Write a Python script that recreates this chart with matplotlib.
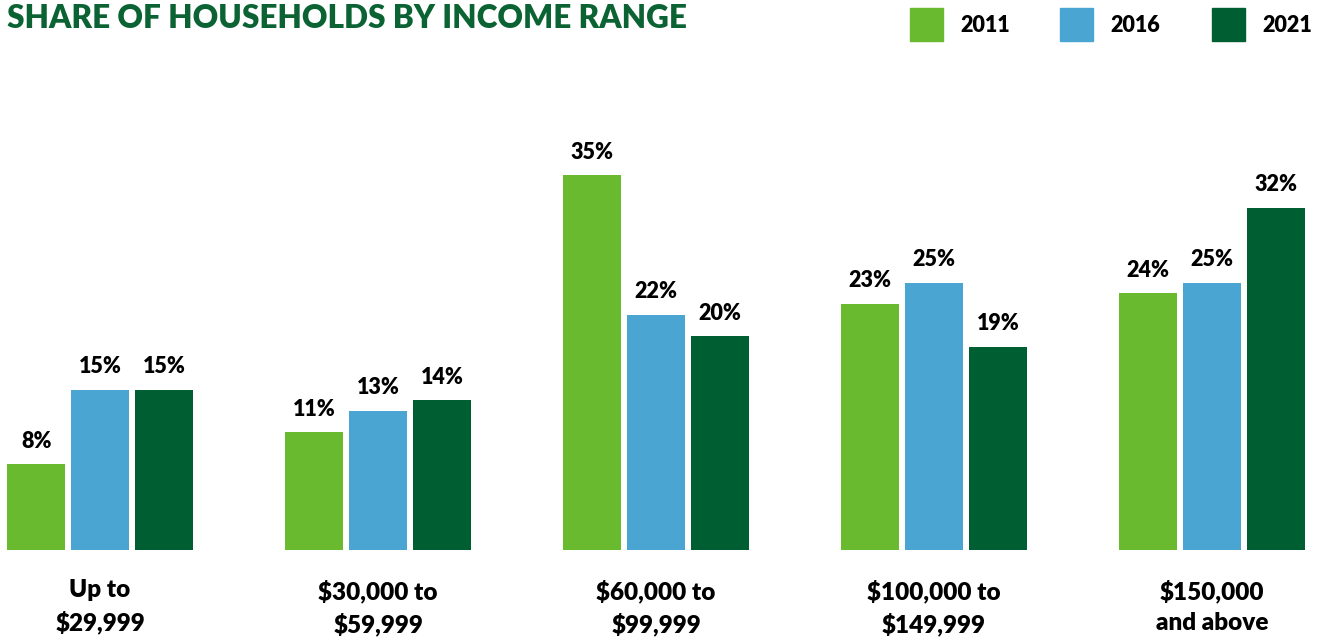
import numpy as np
import matplotlib
matplotlib.use('Agg')
import matplotlib.pyplot as plt
from matplotlib.patches import Rectangle

plt.rcParams['font.family'] = ['Lato', 'DejaVu Sans']

# data
categories = ['Up to\n$29,999', '$30,000 to\n$59,999', '$60,000 to\n$99,999',
              '$100,000 to\n$149,999', '$150,000\nand above']
years = ['2011', '2016', '2021']
share_2011 = [8, 11, 35, 23, 24]
share_2016 = [15, 13, 22, 25, 25]
share_2021 = [15, 14, 20, 19, 32]

colors = ['#6aba2f', '#4ba5d3', '#005e33']
title_color = '#0b6333'
WEIGHT = 'heavy'

W, H = 1323, 638
fig = plt.figure(figsize=(W / 100, H / 100), dpi=100)
fig.set_facecolor('white')

# axes placed in pixel terms: baseline at y=550, ~10.7 px per percent
ax = fig.add_axes([7 / W, 88 / H, 1298 / W, 428 / H])
ax.set_xlim(-0.335, 4.335)
ax.set_ylim(0, 40)
ax.axis('off')

x = np.arange(len(categories))
step = 0.23
width = 0.21
for i, (vals, c) in enumerate(zip([share_2011, share_2016, share_2021], colors)):
    pos = x + (i - 1) * step
    ax.bar(pos, vals, width=width, color=c, edgecolor='none')
    for px, v in zip(pos, vals):
        ax.annotate(f'{v}%', (px, v), xytext=(0, 9), textcoords='offset points',
                    ha='center', va='bottom', fontsize=15.5, fontweight=WEIGHT,
                    color='black')

for xi, lab in zip(x, categories):
    ax.annotate(lab, (xi, 0), xytext=(0, -21), textcoords='offset points',
                ha='center', va='top', fontsize=17.5, fontweight=WEIGHT,
                color='black', linespacing=1.5)

fig.text(7 / W, 1 - 19 / H, 'SHARE OF HOUSEHOLDS BY INCOME RANGE',
         ha='left', va='center', fontsize=22.7, fontweight=WEIGHT, color=title_color)

# legend
leg_x = [910, 1060, 1212]
for lx, c, yr in zip(leg_x, colors, years):
    fig.patches.append(Rectangle((lx / W, 1 - 41 / H), 33 / W, 33 / H,
                                 transform=fig.transFigure, color=c))
    fig.text((lx + 50) / W, 1 - 25 / H, yr, ha='left', va='center',
             fontsize=15.5, fontweight=WEIGHT, color='black')

fig.savefig('out.png', dpi=100, facecolor='white')
